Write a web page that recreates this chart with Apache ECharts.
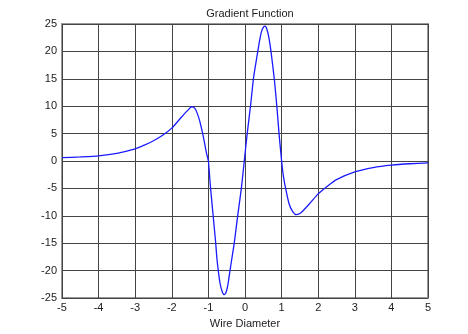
<!DOCTYPE html>
<html>
<head>
<meta charset="utf-8">
<script src="https://cdn.jsdelivr.net/npm/echarts@6/dist/echarts.min.js"></script>
<style>html,body{margin:0;padding:0;background:#fff}#c{width:468px;height:334px}</style>
</head>
<body>
<div id="c"></div>
<script>
const titleText = "Gradient Function";
const xLabel = "Wire Diameter";
const xValues = [-5.0,-4.5,-4.0,-3.5,-3.0,-2.75,-2.5,-2.25,-2.0,-1.75,-1.6,-1.5,-1.46,-1.4,-1.35,-1.3,-1.25,-1.2,-1.15,-1.1,-1.05,-1.0,-0.97,-0.94,-0.87,-0.80,-0.77,-0.73,-0.68,-0.62,-0.57,-0.52,-0.47,-0.41,-0.35,-0.29,-0.2,-0.1,-0.02,0.06,0.15,0.23,0.29,0.35,0.40,0.45,0.50,0.55,0.60,0.65,0.71,0.80,0.87,0.93,1.0,1.05,1.11,1.2,1.29,1.40,1.52,1.75,2.0,2.25,2.5,3.0,3.5,4.0,4.5,5.0];
const yValues = [0.6,0.75,0.95,1.4,2.2,2.9,3.7,4.7,6.0,7.9,9.0,9.7,9.9,9.8,9.4,8.6,7.6,6.3,4.8,3.1,1.4,0,-2.5,-5,-10,-15,-17.6,-20,-22.4,-23.9,-24.4,-24.0,-22.7,-20,-17.4,-14.8,-10,-5,0,5,10,15,17.6,20,22,23.6,24.4,24.6,24.0,22.6,20,15,10,5,0,-2.8,-5,-7.7,-9.1,-9.8,-9.5,-7.9,-6.0,-4.6,-3.4,-2.0,-1.2,-0.75,-0.5,-0.35];

const font = "'Liberation Sans', Arial, sans-serif";
const chart = echarts.init(document.getElementById('c'), null, {renderer: 'canvas'});
chart.setOption({
  animation: false,
  backgroundColor: '#fff',
  title: {text: titleText, left: 245, top: 3, textAlign: 'center',
    textStyle: {fontFamily: font, fontSize: 11, fontWeight: 'normal', color: '#222'}},
  grid: {left: 62, right: 40, top: 24, bottom: 35, show: true, borderColor: '#999', borderWidth: 2, backgroundColor: 'transparent'},
  xAxis: {type: 'value', min: -5, max: 5, interval: 1,
    name: xLabel, nameLocation: 'middle', nameGap: 20,
    nameTextStyle: {fontFamily: font, fontSize: 11, color: '#222'},
    axisLine: {show: false}, axisTick: {show: false},
    axisLabel: {fontFamily: font, fontSize: 11, color: '#222', margin: 4},
    splitLine: {show: true, lineStyle: {color: '#444', width: 1}}},
  yAxis: {type: 'value', min: -25, max: 25, interval: 5,
    axisLine: {show: false}, axisTick: {show: false},
    axisLabel: {fontFamily: font, fontSize: 11, color: '#222', margin: 5},
    splitLine: {show: true, lineStyle: {color: '#444', width: 1}}},
  series: [{type: 'line', data: xValues.map((x, i) => [x, yValues[i]]),
    smooth: 0.2, showSymbol: false, lineStyle: {color: '#1a1aff', width: 1.3}}]
});
</script>
</body>
</html>
